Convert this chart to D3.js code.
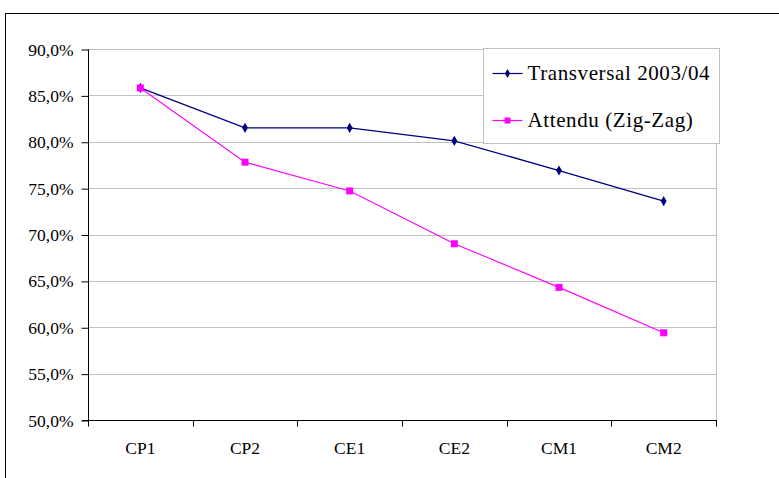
<!DOCTYPE html>
<html>
<head>
<meta charset="utf-8">
<script src="https://cdn.jsdelivr.net/npm/d3@7"></script>
<style>
  body { margin: 0; background: #fff; }
  svg { display: block; }
  text { font-family: "Liberation Serif", "Times New Roman", serif; fill: #000; }
</style>
</head>
<body>
<div id="chart"></div>
<script>
// data
var categories = ["CP1", "CP2", "CE1", "CE2", "CM1", "CM2"];
var transversal = [85.8, 81.5, 81.5, 80.1, 76.9, 73.6];
var attendu = [85.8, 77.8, 74.7, 69.0, 64.3, 59.4];
var yTicks = [50, 55, 60, 65, 70, 75, 80, 85, 90];
var seriesNames = ["Transversal 2003/04", "Attendu (Zig-Zag)"];

var width = 779,
    height = 478;

var plot = { left: 88, right: 716, top: 49, bottom: 420 };

var svg = d3.select("#chart")
  .append("svg")
    .attr("width", width)
    .attr("height", height);

// outer frame (runs off the right and bottom of the picture)
svg.append("rect")
    .attr("x", 5.5)
    .attr("y", 13.5)
    .attr("width", width)
    .attr("height", height)
    .attr("fill", "none")
    .attr("stroke", "#000")
    .attr("stroke-width", 1);

var x = d3.scaleBand()
    .domain(categories)
    .range([plot.left, plot.right]);

var y = d3.scaleLinear()
    .domain([50, 90])
    .range([plot.bottom, plot.top]);

var fmt = function(d) { return d3.format(".1f")(d).replace(".", ",") + "%"; };

// gridlines
svg.append("g")
  .selectAll("line")
  .data(yTicks.slice(1))
  .enter().append("line")
    .attr("x1", plot.left)
    .attr("x2", plot.right)
    .attr("y1", function(d) { return Math.round(y(d)) + 0.5; })
    .attr("y2", function(d) { return Math.round(y(d)) + 0.5; })
    .attr("stroke", "#c0c0c0");

// right border of plot area
svg.append("line")
    .attr("x1", plot.right + 0.5)
    .attr("x2", plot.right + 0.5)
    .attr("y1", plot.top)
    .attr("y2", plot.bottom)
    .attr("stroke", "#c0c0c0");

// y axis
var yAxis = svg.append("g")
    .attr("transform", "translate(" + (plot.left + 0.5) + ",0.5)")
    .call(d3.axisLeft(y).tickValues(yTicks).tickFormat(fmt).tickSize(7).tickPadding(8));
yAxis.select(".domain").attr("d", "M0," + plot.top + "V" + plot.bottom).attr("stroke", "#000");
yAxis.selectAll(".tick line").attr("stroke", "#000");
yAxis.selectAll("text")
    .attr("font-family", "Liberation Serif, serif")
    .attr("font-size", 17.5);

// x axis
var xAxis = svg.append("g")
    .attr("transform", "translate(0," + (plot.bottom + 0.5) + ")");
xAxis.append("line")
    .attr("x1", plot.left - 6)
    .attr("x2", plot.right + 1)
    .attr("stroke", "#000");
xAxis.selectAll(".xtick")
  .data(categories.concat(["end"]))
  .enter().append("line")
    .attr("x1", function(d, i) { return Math.round(plot.left + i * x.step()) + 0.5; })
    .attr("x2", function(d, i) { return Math.round(plot.left + i * x.step()) + 0.5; })
    .attr("y1", 0)
    .attr("y2", 6)
    .attr("stroke", "#000");
xAxis.selectAll(".xlabel")
  .data(categories)
  .enter().append("text")
    .attr("x", function(d) { return x(d) + x.bandwidth() / 2; })
    .attr("y", 33)
    .attr("text-anchor", "middle")
    .attr("font-size", 17.5)
    .text(function(d) { return d; });

var line = d3.line()
    .x(function(d, i) { return x(categories[i]) + x.bandwidth() / 2; })
    .y(function(d) { return y(d); });

// series
svg.append("path")
    .datum(transversal)
    .attr("d", line)
    .attr("fill", "none")
    .attr("stroke", "#000080")
    .attr("stroke-width", 1.3);

svg.append("g")
  .selectAll("path")
  .data(transversal)
  .enter().append("path")
    .attr("transform", function(d, i) {
      return "translate(" + (x(categories[i]) + x.bandwidth() / 2) + "," + y(d) + ")";
    })
    .attr("d", d3.symbol(d3.symbolDiamond, 30))
    .attr("fill", "#000080");

svg.append("path")
    .datum(attendu)
    .attr("d", line)
    .attr("fill", "none")
    .attr("stroke", "#ff00ff")
    .attr("stroke-width", 1.1);

svg.append("g")
  .selectAll("rect")
  .data(attendu)
  .enter().append("rect")
    .attr("x", function(d, i) { return x(categories[i]) + x.bandwidth() / 2 - 3.5; })
    .attr("y", function(d) { return y(d) - 3.5; })
    .attr("width", 7)
    .attr("height", 7)
    .attr("fill", "#ff00ff");

// legend
var legend = svg.append("g")
    .attr("transform", "translate(483.5,48.5)");

legend.append("rect")
    .attr("width", 236)
    .attr("height", 95)
    .attr("fill", "#fff")
    .attr("stroke", "#c0c0c0");

var colors = ["#000080", "#ff00ff"];

var item = legend.selectAll(".item")
  .data(seriesNames)
  .enter().append("g")
    .attr("transform", function(d, i) { return "translate(0," + (25 + i * 47) + ")"; });

item.append("line")
    .attr("x1", 9)
    .attr("x2", 39)
    .attr("stroke", function(d, i) { return colors[i]; })
    .attr("stroke-width", 1.2);

item.append("path")
    .attr("transform", "translate(24,0)")
    .attr("d", function(d, i) {
      return i === 0 ? d3.symbol(d3.symbolDiamond, 24)() : d3.symbol(d3.symbolSquare, 36)();
    })
    .attr("fill", function(d, i) { return colors[i]; });

item.append("text")
    .attr("x", 44)
    .attr("y", 6)
    .attr("font-size", 21)
    .attr("letter-spacing", 0.6)
    .text(function(d) { return d; });
</script>
</body>
</html>
